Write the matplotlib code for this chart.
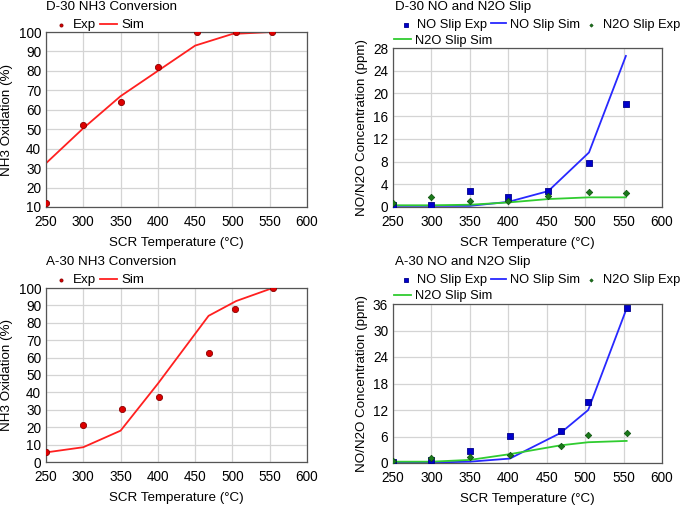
import matplotlib
matplotlib.use("Agg")
import matplotlib.pyplot as plt

plt.rcParams["font.family"] = ["Liberation Sans", "DejaVu Sans"]
FS = 9.6

# D-30 NH3 conversion
d30_exp_t = [250, 300, 350, 400, 453, 505, 553]
d30_exp_nh3 = [12, 52, 64, 82, 100, 100, 100]
d30_sim_t = [250, 300, 350, 400, 450, 500, 553]
d30_sim_nh3 = [32.5, 50.5, 67, 80, 93, 99, 100]

# D-30 NO / N2O slip
d30_slip_t = [250, 300, 350, 400, 452, 505, 553]
d30_no_exp = [0.3, 0.4, 2.9, 1.8, 2.9, 7.7, 18.1]
d30_no_sim = [0.2, 0.2, 0.2, 0.9, 2.8, 9.6, 26.6]
d30_n2o_exp = [0.7, 1.7, 1.1, 1.1, 1.9, 2.6, 2.4]
d30_n2o_sim = [0.3, 0.3, 0.4, 0.8, 1.4, 1.7, 1.7]

# A-30 NH3 conversion
a30_exp_t = [250, 300, 352, 402, 468, 504, 554]
a30_exp_nh3 = [6, 21.5, 30.5, 37.5, 62.5, 88, 100]
a30_sim_t = [250, 300, 350, 400, 468, 505, 554]
a30_sim_nh3 = [5.5, 8.5, 18, 45, 84, 92.5, 100]

# A-30 NO / N2O slip
a30_slip_t = [250, 300, 350, 402, 468, 504, 554]
a30_no_exp = [0.3, 0.7, 2.8, 6.2, 7.2, 13.8, 35]
a30_no_sim = [0.1, 0.1, 0.3, 1.0, 6.8, 12, 35]
a30_n2o_exp = [0.4, 1.1, 1.3, 1.8, 3.9, 6.3, 6.9]
a30_n2o_sim = [0.3, 0.3, 0.7, 2.0, 4.0, 4.7, 5.0]

x_ticks = [250, 300, 350, 400, 450, 500, 550, 600]

W, H = 685, 507
fig = plt.figure(figsize=(W / 100, H / 100), dpi=100)


def px_axes(left, top, right, bottom):
    return fig.add_axes([left / W, 1 - bottom / H, (right - left) / W, (bottom - top) / H])


def style(ax, yticks, ylabel, ylabel_x):
    ax.set_xlim(250, 600)
    ax.set_xticks(x_ticks)
    ax.set_ylim(yticks[0], yticks[-1])
    ax.set_yticks(yticks)
    ax.grid(True, color="#d4d4d4", linewidth=0.9)
    ax.set_axisbelow(True)
    for s in ax.spines.values():
        s.set_color("#555555")
        s.set_linewidth(0.9)
    ax.tick_params(length=0, labelsize=FS + 0.2)
    ax.tick_params(axis="x", pad=5.8)
    ax.tick_params(axis="y", pad=3.5)
    ax.set_xlabel("SCR Temperature (°C)", fontsize=FS, labelpad=6)
    ax.set_ylabel(ylabel, fontsize=FS)
    ax.yaxis.set_label_coords(ylabel_x, 0.5)


red = "#ff2020"
blue = "#2828ff"
green = "#30cc30"

leg_kw = dict(frameon=False, handletextpad=0.3, columnspacing=0.25,
              markerscale=0.5, borderpad=0, borderaxespad=0,
              bbox_transform=fig.transFigure, loc="center left")


def nh3_panel(box, title, title_y, t_exp, exp, t_sim, sim, yticks):
    ax = px_axes(*box)
    h1 = ax.scatter(t_exp, exp, s=20, color="#dd0000", edgecolor="#8b0000",
                    linewidth=0.6, zorder=3)
    h2, = ax.plot(t_sim, sim, color=red, linewidth=1.3)
    style(ax, yticks, "NH3 Oxidation (%)", -0.125)
    fig.text(46 / W, 1 - title_y / H, title, fontsize=FS, va="center", ha="left")
    fig.legend([h1, h2], ["Exp", "Sim"], ncol=2, fontsize=FS, handlelength=1.3,
               bbox_to_anchor=(52 / W, 1 - (title_y + 18) / H), **leg_kw)
    return ax


def slip_panel(box, title, title_y, t, no_exp, no_sim, n2o_exp, n2o_sim, yticks):
    ax = px_axes(*box)
    a = ax.scatter(t, no_exp, s=20, marker="s", color="#0000cc", edgecolor="#00008b",
                   linewidth=0.6, zorder=3)
    b, = ax.plot(t, no_sim, color=blue, linewidth=1.3)
    c = ax.scatter(t, n2o_exp, s=11, marker="D", color="#1a7a1a", edgecolor="#0d4d0d",
                   linewidth=0.5, zorder=3)
    d, = ax.plot(t, n2o_sim, color=green, linewidth=1.3)
    style(ax, yticks, "NO/N2O Concentration (ppm)", -0.093)
    fig.text(395 / W, 1 - title_y / H, title, fontsize=FS, va="center", ha="left")
    fig.legend([a, b, c], ["NO Slip Exp", "NO Slip Sim", "N2O Slip Exp"], ncol=3,
               fontsize=FS - 0.3, handlelength=1.2,
               bbox_to_anchor=(398 / W, 1 - (title_y + 18) / H), **leg_kw)
    fig.legend([d], ["N2O Slip Sim"], fontsize=FS - 0.3, handlelength=1.3,
               bbox_to_anchor=(394 / W, 1 - (title_y + 34) / H), **leg_kw)
    return ax


nh3_panel((46, 32, 307, 207), "D-30 NH3 Conversion", 7,
          d30_exp_t, d30_exp_nh3, d30_sim_t, d30_sim_nh3, list(range(10, 101, 10)))
slip_panel((393, 48, 662, 207), "D-30 NO and N2O Slip", 7,
           d30_slip_t, d30_no_exp, d30_no_sim, d30_n2o_exp, d30_n2o_sim,
           list(range(0, 29, 4)))
nh3_panel((46, 288, 307, 462), "A-30 NH3 Conversion", 262,
          a30_exp_t, a30_exp_nh3, a30_sim_t, a30_sim_nh3, list(range(0, 101, 10)))
slip_panel((393, 304, 662, 463), "A-30 NO and N2O Slip", 262,
           a30_slip_t, a30_no_exp, a30_no_sim, a30_n2o_exp, a30_n2o_sim,
           list(range(0, 37, 6)))

fig.savefig("out.png", dpi=100)
